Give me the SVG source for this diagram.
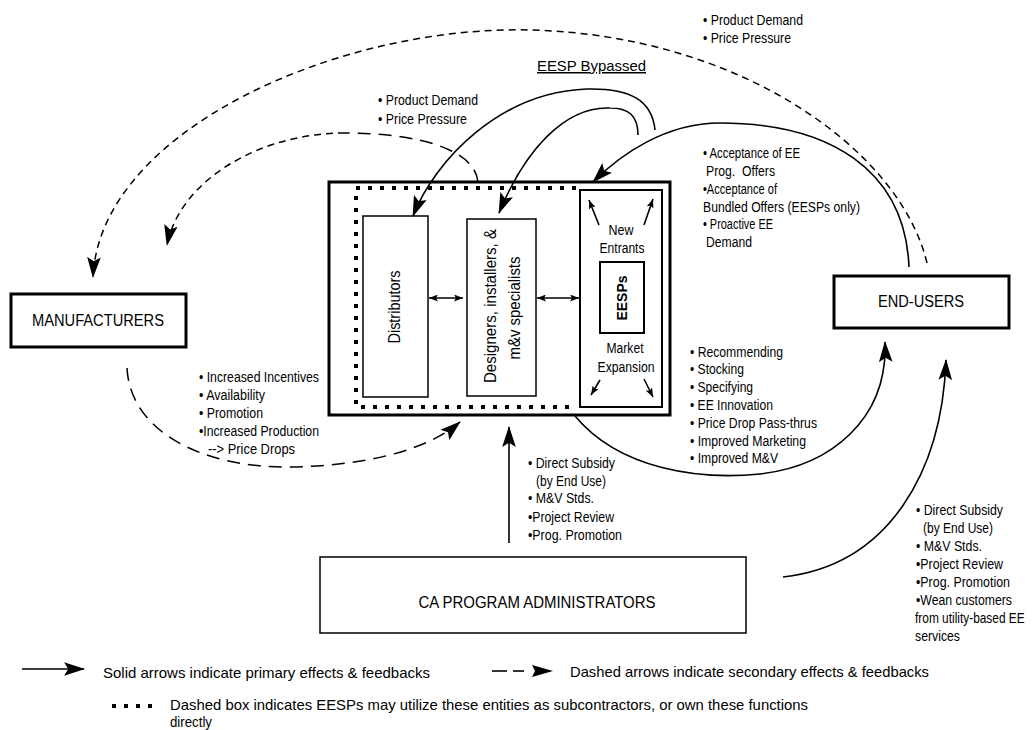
<svg xmlns="http://www.w3.org/2000/svg" width="1032" height="730" viewBox="0 0 1032 730">
<defs>
<style>
text { font-family: "Liberation Sans", Arial, sans-serif; fill: #000; }
.l { font-size: 14px; }
.bx { font-size: 16px; }
.lg { font-size: 15px; }
.in { font-size: 14px; }
.rot { font-size: 16px; }
.thick { fill: #fff; stroke: #000; stroke-width: 3; }
.thin { fill: #fff; stroke: #000; stroke-width: 1.5; }
.mid { fill: #fff; stroke: #000; stroke-width: 2; }
.solid { fill: none; stroke: #000; stroke-width: 1.6; }
.sdash { fill: none; stroke: #000; stroke-width: 1.5; stroke-dasharray: 7 5; }
.ldash { fill: none; stroke: #000; stroke-width: 1.5; stroke-dasharray: 13 8; }
.dots { fill: none; stroke: #000; stroke-width: 4; stroke-dasharray: 4 8; }
</style>
<marker id="ah" viewBox="0 0 20 13" refX="19" refY="6.5" markerWidth="21" markerHeight="14" markerUnits="userSpaceOnUse" orient="auto">
<path d="M0,0 L20,6.5 L0,13 L4,6.5 z" fill="#000"/>
</marker>
<marker id="sh" viewBox="0 0 9 7" refX="9" refY="3.5" markerWidth="9" markerHeight="7" markerUnits="userSpaceOnUse" orient="auto-start-reverse">
<path d="M0,0 L9,3.5 L0,7 L2,3.5 z" fill="#000"/>
</marker>
</defs>
<rect width="1032" height="730" fill="#fff"/>

<!-- Nodes -->
<g id="main-box">
<rect class="thick" x="329" y="182" width="341" height="233"/>
<path class="dots" d="M576,188 H356 V407 H577"/>
</g>
<g id="distributors">
<rect class="thin" x="363" y="216" width="65" height="181"/>
<text class="rot" transform="translate(400,307) rotate(-90)" text-anchor="middle" textLength="73" lengthAdjust="spacingAndGlyphs">Distributors</text>
</g>
<g id="designers">
<rect class="thin" x="467" y="219" width="69" height="177"/>
<text class="rot" transform="translate(496,306) rotate(-90)" text-anchor="middle" textLength="154" lengthAdjust="spacingAndGlyphs">Designers, installers, &amp;</text>
<text class="rot" transform="translate(520,308) rotate(-90)" text-anchor="middle" textLength="103" lengthAdjust="spacingAndGlyphs">m&amp;v specialists</text>
</g>
<g id="esp-area">
<rect class="mid" x="580" y="190" width="82" height="217"/>
<text class="in" x="621" y="235" text-anchor="middle" textLength="25" lengthAdjust="spacingAndGlyphs">New</text>
<text class="in" x="622" y="253" text-anchor="middle" textLength="45" lengthAdjust="spacingAndGlyphs">Entrants</text>
<text class="in" x="625" y="353" text-anchor="middle" textLength="37" lengthAdjust="spacingAndGlyphs">Market</text>
<text class="in" x="626" y="372" text-anchor="middle" textLength="57" lengthAdjust="spacingAndGlyphs">Expansion</text>
<line class="solid" x1="599" y1="225" x2="589" y2="200" marker-end="url(#sh)"/>
<line class="solid" x1="644" y1="225" x2="653" y2="199" marker-end="url(#sh)"/>
<line class="solid" x1="600" y1="380" x2="591" y2="395" marker-end="url(#sh)"/>
<line class="solid" x1="644" y1="379" x2="653" y2="397" marker-end="url(#sh)"/>
</g>
<g id="eesps">
<rect class="mid" x="600" y="262" width="44" height="71"/>
<text transform="translate(627,298) rotate(-90)" text-anchor="middle" font-size="15" font-weight="bold" textLength="45" lengthAdjust="spacingAndGlyphs">EESPs</text>
</g>
<g id="manufacturers">
<rect class="thick" x="11" y="294" width="175" height="53"/>
<text class="bx" x="98" y="326" text-anchor="middle" textLength="132" lengthAdjust="spacingAndGlyphs">MANUFACTURERS</text>
</g>
<g id="end-users">
<rect class="thick" x="834" y="276" width="175" height="52"/>
<text class="bx" x="921" y="307" text-anchor="middle" textLength="86" lengthAdjust="spacingAndGlyphs">END-USERS</text>
</g>
<g id="ca-program-administrators">
<rect class="thin" x="320" y="557" width="426" height="76"/>
<text class="bx" x="537" y="608" text-anchor="middle" textLength="237" lengthAdjust="spacingAndGlyphs">CA PROGRAM ADMINISTRATORS</text>
</g>

<!-- Connectors -->
<g id="connectors">
<path class="sdash" d="M927,263 C900,150 740,35 530,30 C340,25 100,130 93,277" marker-end="url(#ah)"/>
<path class="ldash" d="M478,182 C475,150 420,133 345,133"/>
<path class="sdash" d="M345,133 C260,133 180,180 167,245" marker-end="url(#ah)"/>
<path class="solid" d="M909,267 C905,170 830,123 720,123 C665,123 620,155 593,182" marker-end="url(#ah)"/>
<path class="solid" d="M655,130 C652,100 630,88 587,89 C500,92 435,160 413,216" marker-end="url(#ah)"/>
<path class="solid" d="M638,135 C638,115 628,108 610,108 C565,106 525,150 499,213" marker-end="url(#ah)"/>
<path class="solid" d="M575,416 C620,470 700,480 760,474 C830,466 888,420 885,342" marker-end="url(#ah)"/>
<path class="solid" d="M783,577 C890,565 942,470 946,360" marker-end="url(#ah)"/>
<path class="ldash" d="M127,368 C130,430 200,468 290,467 C360,466 425,452 460,422" marker-end="url(#ah)"/>
<line class="solid" x1="509" y1="543" x2="509" y2="427" marker-end="url(#ah)"/>
<line class="solid" x1="429" y1="298" x2="463" y2="298" marker-start="url(#sh)" marker-end="url(#sh)"/>
<line class="solid" x1="537" y1="298" x2="579" y2="298" marker-start="url(#sh)" marker-end="url(#sh)"/>
</g>

<!-- Labels -->
<g id="labels">
<text class="l" x="703" y="25" textLength="100" lengthAdjust="spacingAndGlyphs">• Product Demand</text>
<text class="l" x="703" y="43" textLength="88" lengthAdjust="spacingAndGlyphs">• Price Pressure</text>
<text x="537" y="71" font-size="15" text-decoration="underline" textLength="109" lengthAdjust="spacingAndGlyphs">EESP Bypassed</text>
<text class="l" x="378" y="105" textLength="100" lengthAdjust="spacingAndGlyphs">• Product Demand</text>
<text class="l" x="378" y="124" textLength="89" lengthAdjust="spacingAndGlyphs">• Price Pressure</text>

<text class="l" x="703" y="158" textLength="97" lengthAdjust="spacingAndGlyphs">• Acceptance of EE</text>
<text class="l" x="706" y="176" textLength="69" lengthAdjust="spacingAndGlyphs" xml:space="preserve">Prog.  Offers</text>
<text class="l" x="703" y="194" textLength="74" lengthAdjust="spacingAndGlyphs">•Acceptance of</text>
<text class="l" x="703" y="212" textLength="157" lengthAdjust="spacingAndGlyphs">Bundled Offers (EESPs only)</text>
<text class="l" x="703" y="229" textLength="70" lengthAdjust="spacingAndGlyphs">• Proactive EE</text>
<text class="l" x="706" y="247" textLength="46" lengthAdjust="spacingAndGlyphs">Demand</text>

<text class="l" x="199" y="382" textLength="120" lengthAdjust="spacingAndGlyphs">• Increased Incentives</text>
<text class="l" x="199" y="400" textLength="66" lengthAdjust="spacingAndGlyphs">• Availability</text>
<text class="l" x="199" y="418" textLength="64" lengthAdjust="spacingAndGlyphs">• Promotion</text>
<text class="l" x="199" y="436" textLength="120" lengthAdjust="spacingAndGlyphs">•Increased Production</text>
<text class="l" x="208" y="454" textLength="87" lengthAdjust="spacingAndGlyphs">--&gt; Price Drops</text>

<text class="l" x="690" y="357" textLength="93" lengthAdjust="spacingAndGlyphs">• Recommending</text>
<text class="l" x="690" y="374" textLength="54" lengthAdjust="spacingAndGlyphs">• Stocking</text>
<text class="l" x="690" y="392" textLength="63" lengthAdjust="spacingAndGlyphs">• Specifying</text>
<text class="l" x="690" y="410" textLength="83" lengthAdjust="spacingAndGlyphs">• EE Innovation</text>
<text class="l" x="690" y="428" textLength="127" lengthAdjust="spacingAndGlyphs">• Price Drop Pass-thrus</text>
<text class="l" x="690" y="446" textLength="116" lengthAdjust="spacingAndGlyphs">• Improved Marketing</text>
<text class="l" x="690" y="463" textLength="88" lengthAdjust="spacingAndGlyphs">• Improved M&amp;V</text>

<text class="l" x="528" y="468" textLength="87" lengthAdjust="spacingAndGlyphs">• Direct Subsidy</text>
<text class="l" x="536" y="486" textLength="70" lengthAdjust="spacingAndGlyphs">(by End Use)</text>
<text class="l" x="528" y="503" textLength="66" lengthAdjust="spacingAndGlyphs">• M&amp;V Stds.</text>
<text class="l" x="528" y="522" textLength="86" lengthAdjust="spacingAndGlyphs">•Project Review</text>
<text class="l" x="528" y="540" textLength="94" lengthAdjust="spacingAndGlyphs">•Prog. Promotion</text>

<text class="l" x="916" y="515" textLength="87" lengthAdjust="spacingAndGlyphs">• Direct Subsidy</text>
<text class="l" x="923" y="533" textLength="70" lengthAdjust="spacingAndGlyphs">(by End Use)</text>
<text class="l" x="916" y="551" textLength="66" lengthAdjust="spacingAndGlyphs">• M&amp;V Stds.</text>
<text class="l" x="916" y="569" textLength="87" lengthAdjust="spacingAndGlyphs">•Project Review</text>
<text class="l" x="916" y="587" textLength="94" lengthAdjust="spacingAndGlyphs">•Prog. Promotion</text>
<text class="l" x="916" y="605" textLength="96" lengthAdjust="spacingAndGlyphs">•Wean customers</text>
<text class="l" transform="translate(915,623) scale(0.85,1)" x="0" y="0">from utility-based EE</text>
<text class="l" x="915" y="641" textLength="45" lengthAdjust="spacingAndGlyphs">services</text>
</g>

<!-- Legend -->
<g id="legend">
<line class="solid" x1="22" y1="669" x2="84" y2="669" marker-end="url(#ah)"/>
<text class="lg" x="103" y="678" textLength="327" lengthAdjust="spacingAndGlyphs">Solid arrows indicate primary effects &amp; feedbacks</text>
<line x1="492" y1="671" x2="507" y2="671" stroke="#000" stroke-width="1.6"/>
<line x1="513" y1="671" x2="524" y2="671" stroke="#000" stroke-width="1.6"/>
<path d="M532,665 L553,671 L532,677 L535,671 z" fill="#000"/>
<text class="lg" x="570" y="677" textLength="359" lengthAdjust="spacingAndGlyphs">Dashed arrows indicate secondary effects &amp; feedbacks</text>
<line class="dots" x1="112" y1="706" x2="152" y2="706"/>
<text class="lg" x="170" y="710" textLength="638" lengthAdjust="spacingAndGlyphs">Dashed box indicates EESPs may utilize these entities as subcontractors, or own these functions</text>
<text class="lg" x="170" y="727" textLength="42" lengthAdjust="spacingAndGlyphs">directly</text>
</g>
</svg>
